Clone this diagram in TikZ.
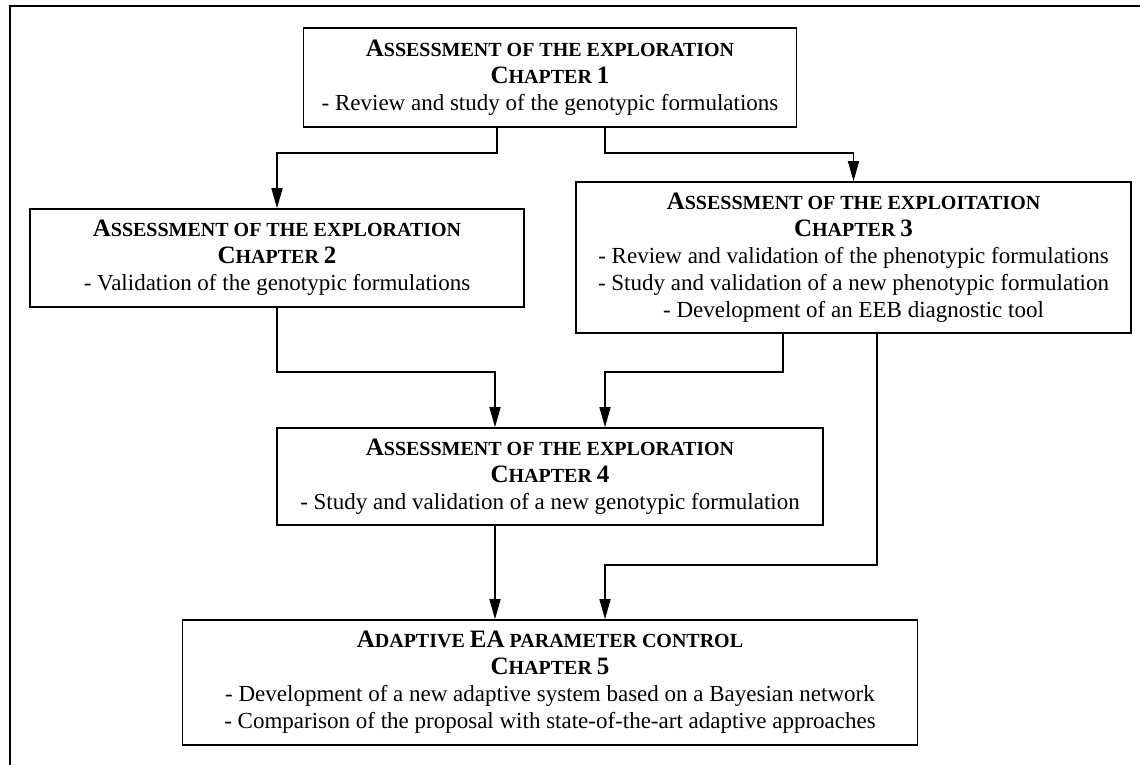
\documentclass[tikz,border=0pt]{standalone}
\usepackage{fontspec}
\setmainfont{Liberation Serif}
\usetikzlibrary{arrows.meta}
% capital + smaller capitals, for the box titles
\newcommand\sccaps[2]{{\fontsize{12.5}{13.5}\selectfont #1}{\fontsize{10}{13.5}\selectfont #2}}
\begin{document}
\begin{tikzpicture}[x=0.5pt,y=-0.5pt, font=\fontsize{11.5}{13.5}\selectfont, line join=miter,
		chbox/.style={draw,line width=0.8pt,align=center,inner sep=2pt},
		arr/.style={line width=0.7pt,-{Triangle[length=10pt,width=5.5pt]}}]
			\useasboundingbox (0,0) rectangle (1140,765);
			\clip (0,0) rectangle (1140,765);
			\draw[line width=1pt] (10,6) rectangle (1170,800);
			\node[chbox,minimum width=246.5pt,minimum height=49.5pt] (ch1) at (550,77.5)
			{\textbf{\sccaps{A}{SSESSMENT OF THE EXPLORATION}}\\ \textbf{\sccaps{C}{HAPTER }\sccaps{1}{}}\\
			- Review and study of the genotypic formulations};
			\node[chbox,minimum width=247pt,minimum height=49pt] (ch2) at (277,258)
			{\textbf{\sccaps{A}{SSESSMENT OF THE EXPLORATION}}\\ \textbf{\sccaps{C}{HAPTER }\sccaps{2}{}}\\
			- Validation of the genotypic formulations};
			\node[chbox,minimum width=277.5pt,minimum height=75.5pt] (ch3) at (853.5,257.5)
			{\textbf{\sccaps{A}{SSESSMENT OF THE EXPLOITATION}}\\ \textbf{\sccaps{C}{HAPTER }\sccaps{3}{}}\\
			- Review and validation of the phenotypic formulations\\
			- Study and validation of a new phenotypic formulation\\
			- Development of an EEB diagnostic tool};
			\node[chbox,minimum width=273pt,minimum height=48.5pt] (ch4) at (550,476.5)
			{\textbf{\sccaps{A}{SSESSMENT OF THE EXPLORATION}}\\ \textbf{\sccaps{C}{HAPTER }\sccaps{4}{}}\\
			- Study and validation of a new genotypic formulation};
			\node[chbox,minimum width=367.5pt,minimum height=62.5pt] (ch5) at (550,682.5)
			{\textbf{\sccaps{A}{DAPTIVE }\sccaps{EA}{ PARAMETER CONTROL}}\\ \textbf{\sccaps{C}{HAPTER }\sccaps{5}{}}\\
			- Development of a new adaptive system based on a Bayesian network\\
			- Comparison of the proposal with state-of-the-art adaptive approaches};
			\draw[arr] (ch1.south -| 497,0) -- (497,153) -| (ch2.north);
			\draw[arr] (ch1.south -| 605,0) -- (605,153) -| (ch3.north);
			\draw[arr] (ch2.south) |- (495,372) -- (ch4.north -| 495,0);
			\draw[arr] (ch3.south -| 783,0) |- (605,372) -- (ch4.north -| 605,0);
			\draw[arr] (ch3.south -| 877,0) |- (605,565) -- (ch5.north -| 605,0);
			\draw[arr] (ch4.south -| 495,0) -- (ch5.north -| 495,0);
		\end{tikzpicture}
\end{document}
